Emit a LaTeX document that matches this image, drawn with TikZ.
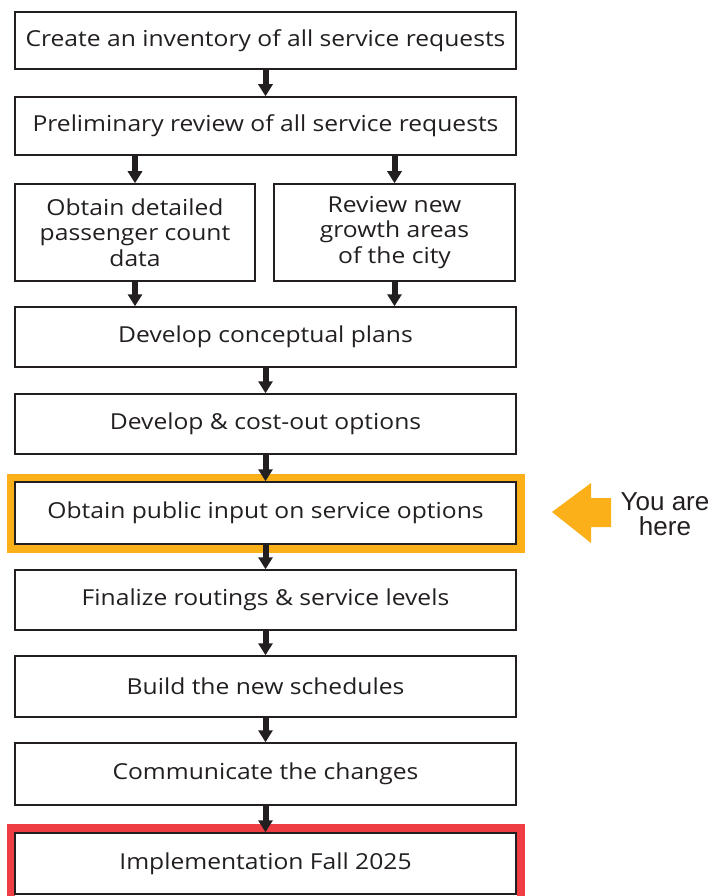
\documentclass[tikz,border=0pt]{standalone}
\usepackage{fontspec}
\setmainfont{Open Sans}[FakeStretch=1.12]
\newfontfamily\herefont{Liberation Sans}
\usetikzlibrary{arrows.meta}

\definecolor{inkdark}{HTML}{231F20}
\definecolor{hereorange}{HTML}{FBB01A}
\definecolor{implred}{HTML}{EE3E43}

\begin{document}
\begin{tikzpicture}[x=1pt,y=-1pt,
    step box/.style={draw=inkdark,line width=1.5pt,fill=white,rectangle,inner sep=0pt,
      align=center,text=inkdark,font=\fontsize{22}{25.5}\selectfont},
    flow/.style={draw=inkdark,line width=6pt,-{Triangle[width=14pt,length=12pt]}},
    frame/.style={line width=8pt}]

   \useasboundingbox (0,0) rectangle (714,896);

   % highlight frames
   \draw[frame,draw=hereorange] (11,478) rectangle (521,549);
   \draw[frame,draw=implred] (11,828) rectangle (521,904);

   % the steps
   \node[step box,minimum width=501pt,minimum height=57pt] (inventory) at (265.5,40.5) {Create an inventory of all service requests};
   \node[step box,minimum width=501pt,minimum height=58pt] (prelim) at (265.5,126) {Preliminary review of all service requests};
   \node[step box,minimum width=240pt,minimum height=97pt] (passenger) at (135,232.5) {Obtain detailed\\passenger count\\data};
   \node[step box,minimum width=241pt,minimum height=97pt] (growth) at (394.5,232.5) {Review new\\growth areas\\of the city};
   \node[step box,minimum width=501pt,minimum height=60pt] (concept) at (265.5,337) {Develop conceptual plans};
   \node[step box,minimum width=501pt,minimum height=60pt] (costout) at (265.5,424) {Develop \& cost-out options};
   \node[step box,minimum width=501pt,minimum height=62pt] (public) at (265.5,513) {Obtain public input on service options};
   \node[step box,minimum width=501pt,minimum height=60pt] (finalize) at (265.5,600) {Finalize routings \& service levels};
   \node[step box,minimum width=501pt,minimum height=61pt] (schedules) at (265.5,686.5) {Build the new schedules};
   \node[step box,minimum width=501pt,minimum height=62pt] (communicate) at (265.5,774) {Communicate the changes};
   \node[step box,minimum width=501pt,minimum height=61pt] (implement) at (265.5,863.5) {Implementation Fall 2025};

   % arrows
   \draw[flow] (inventory) -- (prelim);
   \draw[flow] (passenger.north |- prelim.south) -- (passenger);
   \draw[flow] (growth.north |- prelim.south) -- (growth);
   \draw[flow] (passenger) -- (passenger.south |- concept.north);
   \draw[flow] (growth) -- (growth.south |- concept.north);
   \draw[flow] (concept) -- (costout);
   \draw[flow] (costout) -- (public);
   \draw[flow] (public) -- (finalize);
   \draw[flow] (finalize) -- (schedules);
   \draw[flow] (schedules) -- (communicate);
   \draw[flow] (communicate) -- (implement);

   % you are here
   \coordinate (tip) at (552,512);
   \fill[hereorange] (tip) -- (591,483) -- (591,498) -- (611,498) -- (611,527)
      -- (591,527) -- (591,543) -- cycle;
   \node[align=center,text=inkdark,font=\herefont\fontsize{26}{25}\selectfont] (here) at (665,514) {You are\\here};

\end{tikzpicture}
\end{document}
